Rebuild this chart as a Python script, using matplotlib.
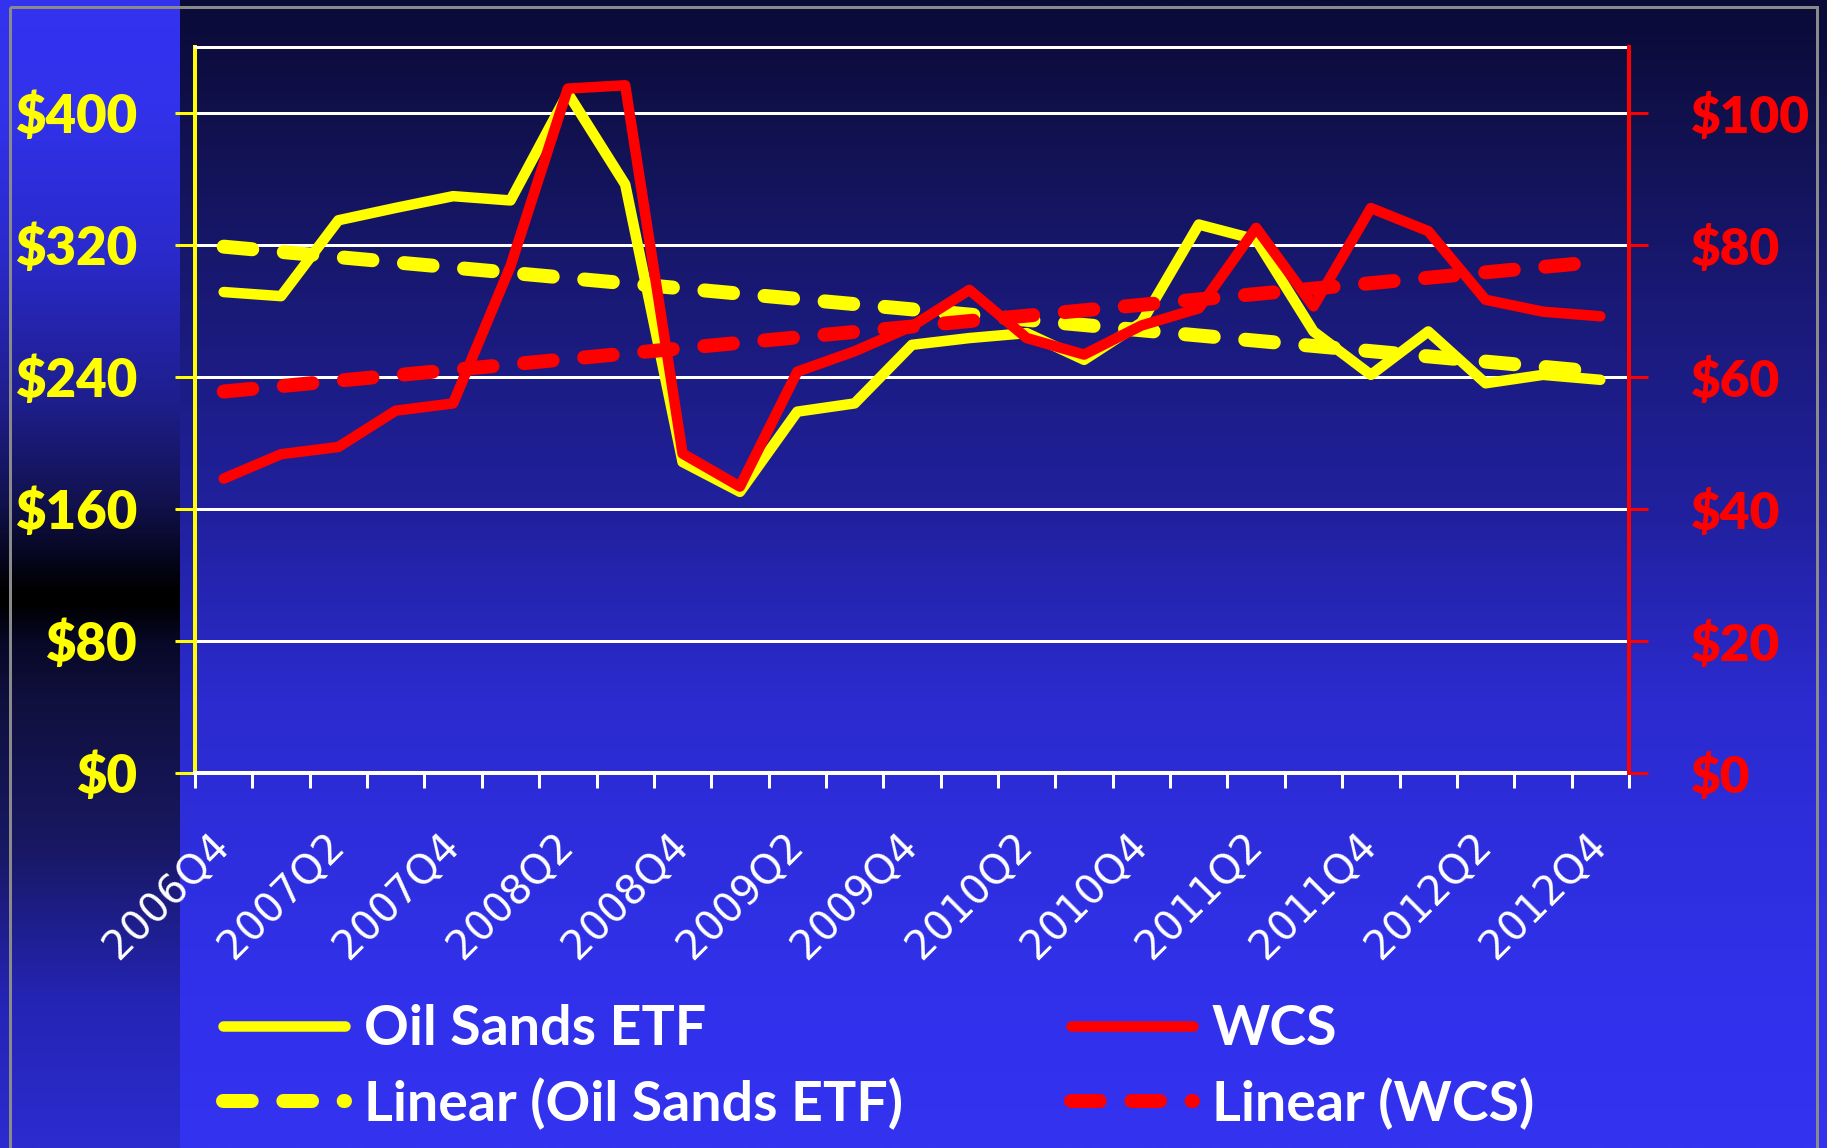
import matplotlib
matplotlib.use('Agg')
import matplotlib.pyplot as plt
from matplotlib.patches import Rectangle
import numpy as np

W, H, DPI = 1827, 1148, 100
PX = 72 / DPI          # points per pixel

# ── Data ─────────────────────────────────────────────────────────────────────
quarters = ['2006Q4', '2007Q1', '2007Q2', '2007Q3', '2007Q4', '2008Q1', '2008Q2',
            '2008Q3', '2008Q4', '2009Q1', '2009Q2', '2009Q3', '2009Q4', '2010Q1',
            '2010Q2', '2010Q3', '2010Q4', '2011Q1', '2011Q2', '2011Q3', '2011Q4',
            '2012Q1', '2012Q2', '2012Q3', '2012Q4']
etf = [291.5, 289, 335, 342.5, 349.6, 347, 412, 356.7, 188.5, 170.4, 219, 224,
       259.5, 263.6, 266.6, 250.4, 273, 332.4, 323.3, 267.6, 241.3, 267.6,
       236.2, 241.3, 238.3]
wcs = [44.6, 48.3, 49.4, 54.9, 56.0, 76.8, 103.7, 104.2, 48.4, 43.4, 60.8, 63.9,
       67.7, 73.2, 65.9, 63.4, 67.8, 70.4, 82.6, 70.7, 85.6, 82.1, 71.7, 69.9, 69.2]
etf_trend = [319, 243]     # linear trend at first / last quarter
wcs_trend = [57.8, 77.5]

left_ticks = [0, 80, 160, 240, 320, 400]
left_labels = ['\\$0', '\\$80', '\\$160', '\\$240', '\\$320', '\\$400']
right_ticks = [0, 20, 40, 60, 80, 100]
right_labels = ['\\$0', '\\$20', '\\$40', '\\$60', '\\$80', '\\$100']

YELLOW = '#FFFF00'
RED = '#FF0000'


def gradient(stops, n=600):
    pos = [s[0] for s in stops]
    cols = np.array([s[1] for s in stops], dtype=float) / 255
    t = np.linspace(0, 1, n)
    img = np.stack([np.interp(t, pos, cols[:, k]) for k in range(3)], axis=-1)
    return img[:, None, :]


fig = plt.figure(figsize=(W / DPI, H / DPI), dpi=DPI)

# ── Background ───────────────────────────────────────────────────────────────
bg = fig.add_axes([0, 0, 1, 1], zorder=0)
bg.axis('off')
main_stops = [(0, (11, 11, 55)), (0.04, (12, 12, 62)), (0.09, (16, 16, 74)),
              (0.255, (25, 25, 117)), (0.455, (33, 33, 160)), (0.61, (43, 43, 207)),
              (0.87, (49, 49, 236)), (1, (51, 51, 240))]
strip_stops = [(0, (51, 51, 240)), (0.09, (50, 50, 236)), (0.22, (42, 42, 204)),
               (0.35, (30, 30, 140)), (0.435, (18, 18, 80)), (0.49, (5, 5, 26)),
               (0.515, (0, 0, 0)), (0.525, (0, 0, 0)), (0.56, (8, 8, 40)),
               (0.61, (16, 16, 62)), (0.74, (24, 24, 100)), (0.87, (36, 36, 180)),
               (1, (44, 44, 208))]
bg.imshow(gradient(main_stops), extent=(0, W, H, 0), aspect='auto')
bg.imshow(gradient(strip_stops), extent=(0, 180, H, 0), aspect='auto')
bg.add_patch(Rectangle((10, 7), W - 20, H, fill=False, ec='#8A8A8A', lw=3 * PX))
bg.set_xlim(0, W)
bg.set_ylim(H, 0)

# ── Plot area ────────────────────────────────────────────────────────────────
ax = fig.add_axes([195 / W, 1 - 773 / H, (1629 - 195) / W, (773 - 47) / H], zorder=1)
ax.set_facecolor('none')
ax2 = ax.twinx()

x = np.arange(len(quarters))
l_etf, = ax.plot(x, etf, color=YELLOW, lw=10.5 * PX, solid_capstyle='round',
                 solid_joinstyle='round', label='Oil Sands ETF')
l_etf_tr, = ax.plot([x[0], x[-1]], etf_trend, color=YELLOW, lw=14 * PX,
                    dashes=(2.05, 2.26), dash_capstyle='round',
                    label='Linear (Oil Sands ETF)')
l_wcs, = ax2.plot(x, wcs, color=RED, lw=10.5 * PX, solid_capstyle='round',
                  solid_joinstyle='round', label='WCS')
l_wcs_tr, = ax2.plot([x[0], x[-1]], wcs_trend, color=RED, lw=14 * PX,
                     dashes=(2.05, 2.26), dash_capstyle='round', label='Linear (WCS)')

ax.set_xlim(-0.5, len(quarters) - 0.5)
ax.set_ylim(0, 440)
ax2.set_ylim(0, 110)

ax.yaxis.grid(True, color='white', lw=3 * PX)

# x axis: ticks on category boundaries, labels on every other category
ax.set_xticks(np.arange(-0.5, len(quarters), 1))
ax.set_xticks(x[::2], quarters[::2], minor=True, fontfamily='DejaVu Sans',
              fontsize=29, color='white')
ax.tick_params(axis='x', which='major', length=15 * PX, width=3 * PX,
               color='white', labelbottom=False)
ax.tick_params(axis='x', which='minor', length=0, pad=48)
for lab in ax.get_xticklabels(minor=True):
    lab.set_rotation(45)
    lab.set_ha('right')
    lab.set_va('center')
    lab.set_rotation_mode('anchor')

ax.set_yticks(left_ticks, left_labels, fontfamily='Lato', fontweight='heavy')
ax.tick_params(axis='y', length=20 * PX, width=3 * PX, color=YELLOW,
               labelcolor=YELLOW, labelsize=38, pad=38 * PX)
ax2.set_yticks(right_ticks, right_labels, fontfamily='Lato', fontweight='heavy')
ax2.tick_params(axis='y', length=19 * PX, width=3 * PX, color=RED,
                labelcolor=RED, labelsize=37, pad=43 * PX)

ax.spines['left'].set_color(YELLOW)
ax.spines['left'].set_linewidth(4 * PX)
ax.spines['bottom'].set_color('white')
ax.spines['bottom'].set_linewidth(4 * PX)
ax.spines['top'].set_color('white')
ax.spines['top'].set_linewidth(3 * PX)
ax.spines['right'].set_visible(False)
for s in ['left', 'top', 'bottom']:
    ax2.spines[s].set_visible(False)
ax2.spines['right'].set_color(RED)
ax2.spines['right'].set_linewidth(4 * PX)

# ── Legend (two columns) ─────────────────────────────────────────────────────
leg_kw = dict(loc='upper left', frameon=False, borderpad=0, borderaxespad=0,
              handlelength=2.2, handletextpad=0.33, labelspacing=0.42,
              prop=dict(family='Lato', weight='bold', size=40), labelcolor='white')
fig.legend(handles=[l_etf, l_etf_tr], bbox_to_anchor=(223 / W, 1 - 1004 / H), **leg_kw)
fig.legend(handles=[l_wcs, l_wcs_tr], bbox_to_anchor=(1071 / W, 1 - 1004 / H), **leg_kw)

fig.savefig('out.png', dpi=DPI)
